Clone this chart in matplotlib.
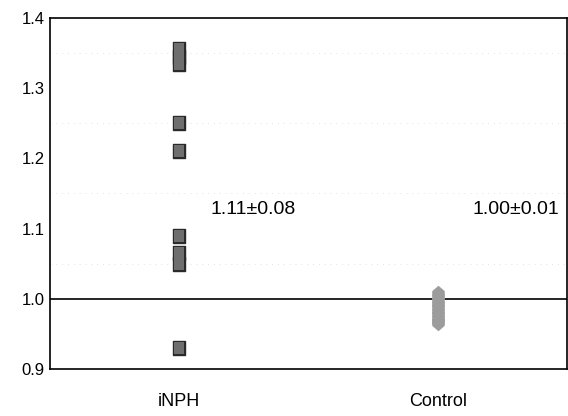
import matplotlib
matplotlib.use("Agg")
import matplotlib.pyplot as plt
from matplotlib.path import Path

plt.rcParams['font.family'] = ['Liberation Sans', 'DejaVu Sans']

categories = ["iNPH", "Control"]
inph_values = [1.355, 1.345, 1.335, 1.25, 1.21, 1.09, 1.065, 1.05, 0.93]
control_values = [1.008, 1.003, 0.998, 0.993, 0.988, 0.983, 0.978, 0.973, 0.968, 0.965]
annotations = ["1.11\u00b10.08", "1.00\u00b10.01"]
yticks = [0.9, 1.0, 1.1, 1.2, 1.3, 1.4]
ytick_labels = ["0.9", "1.0", "1.1", "1.2", "1.3", "1.4"]
grid_levels = [1.05, 1.15, 1.25, 1.35]

fig = plt.figure(figsize=(5.68, 4.16), dpi=100)
ax = fig.add_axes([0.088, 0.113, 0.91, 0.844])

rect = Path([(-0.42, -0.5), (0.42, -0.5), (0.42, 0.5), (-0.42, 0.5), (-0.42, -0.5)],
            [Path.MOVETO, Path.LINETO, Path.LINETO, Path.LINETO, Path.CLOSEPOLY])
diam = Path([(0, -0.5), (0.4, -0.15), (0.4, 0.15), (0, 0.5), (-0.4, 0.15), (-0.4, -0.15), (0, -0.5)],
            [Path.MOVETO, Path.LINETO, Path.LINETO, Path.LINETO, Path.LINETO, Path.LINETO, Path.CLOSEPOLY])

for y in grid_levels:
    ax.axhline(y, color='#e2e2e2', lw=0.7, ls=(0, (1, 5)), zorder=0)
ax.axhline(1.0, color='black', lw=1.2, zorder=1)

xs_inph = [0.5] * len(inph_values)
ax.plot(xs_inph, inph_values, ls='none', marker=rect, markersize=10.2,
        markerfacecolor='#2a2a2a', markeredgecolor='#2a2a2a', markeredgewidth=1.0, zorder=3)
ax.plot(xs_inph, inph_values, ls='none', marker=rect, markersize=8.8,
        markerfacecolor='#6e6e6e', markeredgewidth=0, zorder=4)

xs_ctrl = [1.5] * len(control_values)
ax.plot(xs_ctrl, control_values, ls='none', marker=diam, markersize=10.5,
        markerfacecolor='#9c9c9c', markeredgecolor='#9c9c9c', markeredgewidth=0.5, zorder=3)

ax.text(0.62, 1.127, annotations[0], fontsize=14, va='center', ha='left')
ax.text(1.636, 1.127, annotations[1], fontsize=14, va='center', ha='left')

ax.set_xlim(0, 2)
ax.set_ylim(0.9, 1.4)
ax.set_xticks([0.5, 1.5])
ax.set_xticklabels(categories, fontsize=13)
ax.set_yticks(yticks)
ax.set_yticklabels(ytick_labels, fontsize=12)
ax.tick_params(axis='both', length=0)
ax.tick_params(axis='x', pad=17)
ax.tick_params(axis='y', pad=4)
for s in ax.spines.values():
    s.set_linewidth(1.2)
    s.set_color('black')

fig.savefig("out.png", dpi=100)
